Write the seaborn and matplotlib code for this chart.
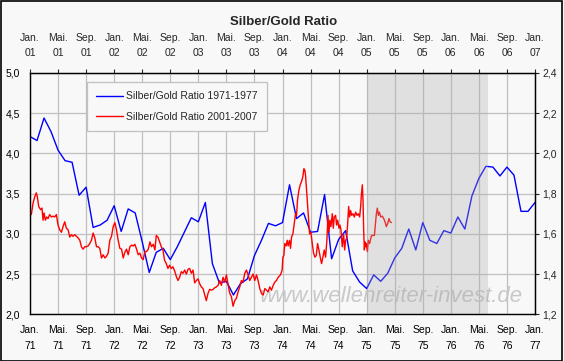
#!/usr/bin/env python

# ===================== LIBRARIES =====================

import matplotlib
matplotlib.use("Agg")
import matplotlib.pyplot as plt
from matplotlib.patches import Rectangle
import seaborn as sns
import pandas as pd
import numpy as np

# ===================== DATA =====================

# Blue: monthly ratio 1971-1977 (months since Jan. 71)
blue_month = list(range(73))
blue_ratio = [
    4.21, 4.16, 4.44, 4.27, 4.04, 3.91, 3.89, 3.48, 3.58, 3.08, 3.11, 3.17,
    3.35, 3.03, 3.31, 3.26, 2.90, 2.52, 2.77, 2.82, 2.68, 2.84, 3.02, 3.20,
    3.15, 3.39, 2.63, 2.39, 2.41, 2.24, 2.38, 2.44, 2.73, 2.92, 3.13, 3.10,
    3.14, 3.61, 3.19, 3.26, 3.02, 3.03, 3.49, 2.69, 2.93, 3.04, 2.54, 2.40,
    2.32, 2.49, 2.41, 2.51, 2.70, 2.82, 3.06, 2.80, 3.14, 2.92, 2.88, 3.04,
    3.01, 3.21, 3.06, 3.47, 3.69, 3.84, 3.83, 3.72, 3.83, 3.73, 3.28, 3.28,
    3.39,
]

# Red: weekly-ish ratio 2001-2005 (months since Jan. 01)
red_month = [
    0.00, 0.19, 0.43, 0.67, 0.90, 1.05, 1.24, 1.52, 1.71, 1.86, 2.00, 2.19,
    2.38, 2.57, 2.81, 3.05, 3.29, 3.52, 3.76, 4.00, 4.24, 4.48, 4.71, 4.95,
    5.19, 5.43, 5.67, 5.90, 6.14, 6.38, 6.62, 6.86, 7.10, 7.33, 7.57, 7.81,
    8.05, 8.29, 8.52, 8.76, 9.00, 9.24, 9.48, 9.71, 9.95, 10.19, 10.43, 10.67,
    10.90, 11.14, 11.38, 11.62, 11.86, 12.10, 12.33, 12.57, 12.81, 13.05, 13.29, 13.52,
    13.76, 14.00, 14.24, 14.48, 14.71, 14.95, 15.19, 15.43, 15.67, 15.90, 16.14, 16.38,
    16.62, 16.86, 17.10, 17.33, 17.57, 17.81, 18.00, 18.24, 18.48, 18.72, 18.95, 19.19,
    19.43, 19.67, 19.90, 20.14, 20.38, 20.62, 20.86, 21.10, 21.33, 21.57, 21.81, 22.05,
    22.29, 22.53, 22.76, 23.00, 23.24, 23.48, 23.72, 23.95, 24.19, 24.43, 24.67, 24.91,
    25.14, 25.38, 25.62, 25.86, 26.10, 26.33, 26.57, 26.81, 27.05, 27.29, 27.52, 27.76,
    28.00, 28.24, 28.48, 28.71, 28.95, 29.19, 29.43, 29.67, 29.90, 30.14, 30.38, 30.62,
    30.86, 31.10, 31.33, 31.57, 31.81, 32.05, 32.29, 32.52, 32.76, 33.00, 33.24, 33.48,
    33.71, 33.95, 34.19, 34.43, 34.67, 34.90, 35.14, 35.38, 35.71, 35.95, 36.05, 36.19,
    36.33, 36.52, 36.67, 36.81, 37.00, 37.14, 37.29, 37.48, 37.67, 37.86, 38.00, 38.14,
    38.33, 38.52, 38.71, 38.90, 39.05, 39.19, 39.29, 39.43, 39.57, 39.71, 39.86, 40.05,
    40.24, 40.43, 40.62, 40.81, 41.00, 41.19, 41.38, 41.57, 41.76, 41.95, 42.14, 42.33,
    42.48, 42.62, 42.76, 42.90, 43.10, 43.24, 43.38, 43.57, 43.71, 43.86, 44.05, 44.19,
    44.33, 44.52, 44.71, 44.86, 45.00, 45.14, 45.29, 45.43, 45.57, 45.71, 45.86, 46.05,
    46.24, 46.43, 46.62, 46.81, 47.00, 47.14, 47.24, 47.38, 47.48, 47.57, 47.67, 47.76,
    47.86, 47.95, 48.10, 48.24, 48.43, 48.57, 48.71, 48.90, 49.10, 49.24, 49.38, 49.52,
    49.67, 49.81, 50.00, 50.24, 50.43, 50.62, 50.81, 51.00, 51.19, 51.33, 51.52,
]
red_ratio = [
    3.24, 3.24, 3.38, 3.46, 3.51, 3.46, 3.34, 3.30, 3.32, 3.17, 3.26, 3.17,
    3.21, 3.19, 3.24, 3.21, 3.22, 3.21, 3.24, 3.11, 3.05, 3.02, 3.09, 3.15,
    3.07, 3.05, 2.96, 2.99, 2.97, 2.99, 2.97, 2.95, 2.92, 2.84, 2.81, 2.84,
    2.84, 2.85, 2.88, 2.92, 3.01, 2.95, 2.84, 2.84, 2.82, 2.70, 2.74, 2.70,
    2.72, 2.76, 2.92, 2.97, 3.09, 3.14, 3.05, 2.92, 2.82, 2.81, 2.70, 2.77,
    2.81, 2.74, 2.84, 2.86, 2.85, 2.87, 2.81, 2.74, 2.76, 2.70, 2.68, 2.78,
    2.78, 2.81, 2.90, 2.84, 2.87, 2.80, 2.98, 2.96, 2.90, 2.84, 2.80, 2.67,
    2.63, 2.57, 2.61, 2.57, 2.59, 2.54, 2.47, 2.42, 2.46, 2.53, 2.51, 2.55,
    2.50, 2.56, 2.57, 2.51, 2.55, 2.39, 2.42, 2.44, 2.38, 2.34, 2.32, 2.24,
    2.17, 2.26, 2.31, 2.30, 2.31, 2.33, 2.34, 2.36, 2.42, 2.36, 2.46, 2.40,
    2.49, 2.37, 2.26, 2.22, 2.10, 2.17, 2.20, 2.28, 2.34, 2.42, 2.40, 2.51,
    2.55, 2.49, 2.42, 2.46, 2.50, 2.42, 2.49, 2.42, 2.32, 2.26, 2.24, 2.32,
    2.30, 2.28, 2.34, 2.30, 2.36, 2.40, 2.42, 2.46, 2.49, 2.55, 2.71, 2.73,
    2.88, 2.85, 2.92, 2.85, 2.92, 2.82, 2.96, 3.00, 3.13, 3.25, 3.23, 3.42,
    3.54, 3.61, 3.65, 3.71, 3.81, 3.79, 3.72, 3.54, 3.34, 3.17, 3.00, 3.02,
    2.88, 2.76, 2.71, 2.73, 2.88, 2.80, 2.71, 2.63, 2.71, 2.80, 2.71, 2.92,
    3.23, 3.02, 3.17, 3.09, 3.25, 3.07, 3.21, 3.23, 3.11, 3.17, 3.07, 3.11,
    3.05, 2.84, 3.00, 2.80, 2.92, 2.94, 3.13, 3.34, 3.21, 3.29, 3.23, 3.25,
    3.21, 3.27, 3.23, 3.25, 3.21, 3.34, 3.48, 3.61, 3.42, 3.05, 2.80, 2.90,
    2.84, 2.88, 2.78, 2.92, 2.88, 2.94, 2.98, 2.98, 2.98, 3.11, 3.25, 3.32,
    3.23, 3.27, 3.21, 3.22, 3.19, 3.15, 3.09, 3.13, 3.19, 3.15, 3.14,
]

# Shaded projection window (months since Jan.)
shade_start = 48
shade_end = 65.25

# Tick labels (every 4 months)
tick_month = list(range(0, 73, 4))
month_names = ["Jan.", "Mai.", "Sep."]
bottom_years = ["71", "72", "73", "74", "75", "76", "77"]
top_years = ["01", "02", "03", "04", "05", "06", "07"]

left_ticks = [2.0, 2.5, 3.0, 3.5, 4.0, 4.5, 5.0]
right_ticks = [1.2, 1.4, 1.6, 1.8, 2.0, 2.2, 2.4]


def month_labels(years):
    return [
        f"{month_names[i % 3]}\n{years[i // 3]}"
        for i in range(len(tick_month))
    ]


def comma(v):
    return f"{v:.1f}".replace(".", ",")


# ===================== MAIN =====================

def main():

    sns.set_style("white")
    plt.rcParams["font.family"] = ["Liberation Sans", "DejaVu Sans"]

    bg = "#f8f8f8"
    grid = "#c0c0c0"

    fig = plt.figure(figsize=(5.64, 3.61), dpi=100, facecolor=bg)
    ax = fig.add_axes([0.0532, 0.1294, 0.8954, 0.6684])
    ax.set_facecolor(bg)

    blue_df = pd.DataFrame({"month": blue_month, "ratio": blue_ratio})
    red_df = pd.DataFrame({"month": red_month, "ratio": red_ratio})

    sns.lineplot(
        data=blue_df, x="month", y="ratio", color="#0000ff",
        linewidth=1.0, estimator=None, ax=ax, zorder=3,
        label="Silber/Gold Ratio 1971-1977",
    )
    sns.lineplot(
        data=red_df, x="month", y="ratio", color="#ff0000",
        linewidth=1.0, estimator=None, ax=ax, zorder=3,
        label="Silber/Gold Ratio 2001-2007",
    )

    # Grey overlay over the projection window
    ax.axvspan(shade_start, shade_end, color="#aaaaaa", alpha=0.3,
               lw=0, zorder=4)

    # ===================== AXES =====================

    ax.set_xlim(0, 72)
    ax.set_ylim(2, 5)
    ax.set_xlabel("")
    ax.set_ylabel("")

    ax.set_xticks(tick_month)
    ax.set_xticklabels(month_labels(bottom_years), linespacing=1.65)
    ax.set_yticks(left_ticks)
    ax.set_yticklabels([comma(v) for v in left_ticks])

    ax.grid(True, color=grid, linewidth=0.9, zorder=0)
    ax.set_axisbelow(True)

    for side in ["left", "right", "top", "bottom"]:
        ax.spines[side].set_color("black")
        ax.spines[side].set_linewidth(1.0)
        ax.spines[side].set_zorder(6)

    ax.tick_params(axis="x", direction="out", length=3, width=0.8,
                   labelsize=7.5, pad=5, colors="black")
    ax.tick_params(axis="y", direction="out", length=3, width=0.8,
                   labelsize=7.5, pad=4, colors="black")

    top = ax.secondary_xaxis("top")
    top.set_xticks(tick_month)
    top.set_xticklabels(month_labels(top_years), linespacing=1.65)
    top.tick_params(direction="out", length=3, width=0.8,
                    labelsize=7.5, pad=8)

    right = ax.secondary_yaxis(
        "right",
        functions=(lambda v: 0.4 * v + 0.4, lambda r: (r - 0.4) / 0.4),
    )
    right.set_yticks(right_ticks)
    right.set_yticklabels([comma(v) for v in right_ticks])
    right.tick_params(direction="out", length=3, width=0.8,
                      labelsize=7.5, pad=2.5)

    # ===================== LEGEND + TEXT =====================

    leg = ax.legend(
        loc="upper left", bbox_to_anchor=(0.112, 0.963),
        fontsize=7.5, frameon=True, fancybox=False, framealpha=1,
        facecolor=bg, edgecolor=grid, handlelength=2.6,
        handletextpad=0.3, labelspacing=1.0, borderpad=0.9,
        borderaxespad=0,
    )
    leg.get_frame().set_linewidth(0.9)
    leg.set_zorder(7)

    ax.text(0.715, 0.072, "www.wellenreiter-invest.de",
            transform=ax.transAxes, ha="center", va="center",
            fontsize=16, style="italic", color="#c8c8c8", zorder=2)

    fig.text(0.503, 0.939, "Silber/Gold Ratio", ha="center", va="center",
             fontsize=9.5, fontweight="bold")

    fig.patches.append(Rectangle(
        (0.001, 0.001), 0.996, 0.997, transform=fig.transFigure,
        fill=False, edgecolor="black", linewidth=1.2,
    ))

    fig.savefig("out.png", dpi=100, facecolor=bg)


if __name__ == "__main__":
    main()
